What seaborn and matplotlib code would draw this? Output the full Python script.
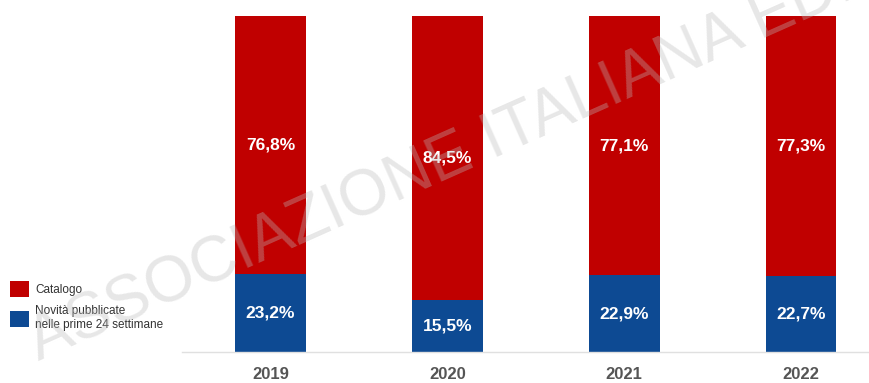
import matplotlib
matplotlib.use("Agg")
import matplotlib.pyplot as plt
import seaborn as sns
import pandas as pd
from matplotlib.patches import Patch

years = ["2019", "2020", "2021", "2022"]
catalogo = [76.8, 84.5, 77.1, 77.3]
novita = [23.2, 15.5, 22.9, 22.7]
series_labels = ["Catalogo", "Novità pubblicate\nnelle prime 24 settimane"]

RED = "#C00000"
BLUE = "#0D4A93"

sns.set_theme(style="white")
plt.rcParams["font.family"] = ["Liberation Sans", "DejaVu Sans"]

df = pd.DataFrame({"anno": years, "catalogo": catalogo, "novita": novita})
df["totale"] = df["catalogo"] + df["novita"]

fig = plt.figure(figsize=(8.7, 3.83), dpi=100)
ax = fig.add_axes([182 / 870, 1 - 352 / 383, 1 - 182 / 870, (352 - 16) / 383])

sns.barplot(data=df, x="anno", y="totale", order=years, color=RED, width=0.4,
            saturation=1, ax=ax, linewidth=0)
sns.barplot(data=df, x="anno", y="novita", order=years, color=BLUE, width=0.4,
            saturation=1, ax=ax, linewidth=0)

ax.set_ylim(0, 100)
ax.set_xlim(-0.5, 3.39)
ax.set_xlabel("")
ax.set_ylabel("")
ax.set_yticks([])
for s in ["top", "right", "left"]:
    ax.spines[s].set_visible(False)
ax.spines["bottom"].set_color("#e0e0e0")
ax.spines["bottom"].set_linewidth(1)
ax.tick_params(axis="x", length=0, pad=11, labelsize=12, labelcolor="#555555")
for t in ax.get_xticklabels():
    t.set_fontweight("bold")

def fmt(v):
    return f"{v:.1f}%".replace(".", ",")

for i, (c, n) in enumerate(zip(df["catalogo"], df["novita"])):
    ax.text(i, n / 2, fmt(n), ha="center", va="center", color="white",
            fontsize=12.5, fontweight="bold", zorder=5)
    ax.text(i, n + c / 2, fmt(c), ha="center", va="center", color="white",
            fontsize=12.5, fontweight="bold", zorder=5)

handles = [Patch(facecolor=RED, edgecolor="none"), Patch(facecolor=BLUE, edgecolor="none")]
fig.legend(handles, series_labels, loc="upper left", bbox_to_anchor=(10 / 870, 1 - 281 / 383),
           frameon=False, fontsize=8.5, handlelength=1.65, handleheight=1.65,
           handletextpad=0.5, labelspacing=0.75, borderaxespad=0, borderpad=0,
           labelcolor="#333333")

fig.text(510 / 870, 1 - 133 / 383, "ASSOCIAZIONE ITALIANA EDITORI", rotation=24,
         ha="center", va="center", fontsize=46, color="#bbbbbb", alpha=0.35, zorder=10)

fig.savefig("out.png", dpi=100)
